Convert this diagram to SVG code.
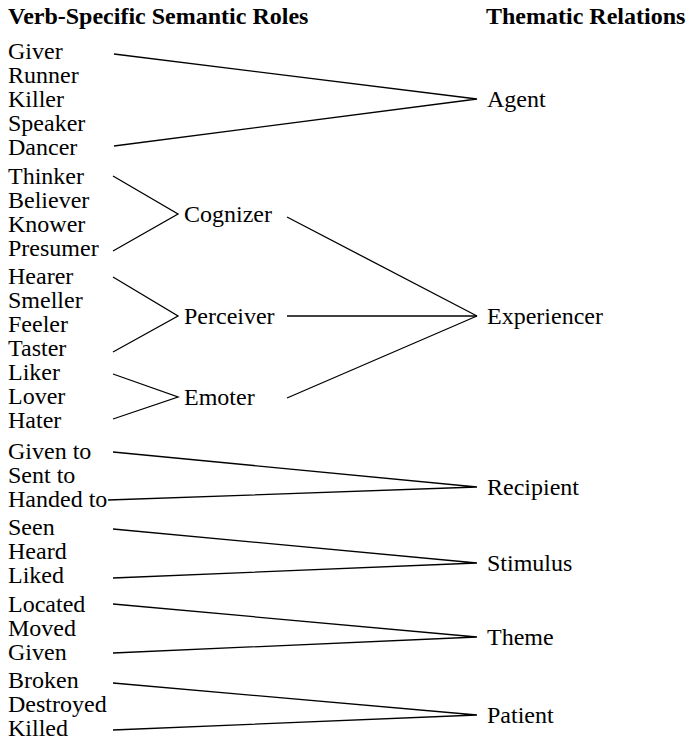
<svg xmlns="http://www.w3.org/2000/svg" width="689" height="740" viewBox="0 0 689 740">
  <style>
    text { fill: #000; }
    .head { font-weight: bold; }
    .link { stroke: #000; stroke-width: 1.3; fill: none; }
  </style>
  <rect width="689" height="740" fill="#fff"/>

  <g font-family="'Liberation Serif', 'Times New Roman', serif" font-size="24">
  <!-- column headings -->
  <g id="heading-roles"><text class="head" x="8" y="24">Verb-Specific Semantic Roles</text></g>
  <g id="heading-relations"><text class="head" x="486" y="24">Thematic Relations</text></g>

  <!-- verb-specific roles -->
  <g id="roles-agent">
    <text x="8" y="59">Giver</text>
    <text x="8" y="83">Runner</text>
    <text x="8" y="107">Killer</text>
    <text x="8" y="131">Speaker</text>
    <text x="8" y="155">Dancer</text>
  </g>
  <g id="roles-cognizer">
    <text x="8" y="184">Thinker</text>
    <text x="8" y="208">Believer</text>
    <text x="8" y="232">Knower</text>
    <text x="8" y="256">Presumer</text>
  </g>
  <g id="roles-perceiver">
    <text x="8" y="284">Hearer</text>
    <text x="8" y="308">Smeller</text>
    <text x="8" y="332">Feeler</text>
    <text x="8" y="356">Taster</text>
  </g>
  <g id="roles-emoter">
    <text x="8" y="380">Liker</text>
    <text x="8" y="404">Lover</text>
    <text x="8" y="428">Hater</text>
  </g>
  <g id="roles-recipient">
    <text x="8" y="459">Given to</text>
    <text x="8" y="483">Sent to</text>
    <text x="8" y="507">Handed to</text>
  </g>
  <g id="roles-stimulus">
    <text x="8" y="535">Seen</text>
    <text x="8" y="559">Heard</text>
    <text x="8" y="583">Liked</text>
  </g>
  <g id="roles-theme">
    <text x="8" y="612">Located</text>
    <text x="8" y="636">Moved</text>
    <text x="8" y="660">Given</text>
  </g>
  <g id="roles-patient">
    <text x="8" y="688">Broken</text>
    <text x="8" y="712">Destroyed</text>
    <text x="8" y="736">Killed</text>
  </g>

  <!-- intermediate roles -->
  <g id="cognizer"><text x="184" y="222">Cognizer</text></g>
  <g id="perceiver"><text x="184" y="324">Perceiver</text></g>
  <g id="emoter"><text x="184" y="405">Emoter</text></g>

  <!-- thematic relations -->
  <g id="agent"><text x="487" y="107">Agent</text></g>
  <g id="experiencer"><text x="487" y="324">Experiencer</text></g>
  <g id="recipient"><text x="487" y="495">Recipient</text></g>
  <g id="stimulus"><text x="487" y="571">Stimulus</text></g>
  <g id="theme"><text x="487" y="645">Theme</text></g>
  <g id="patient"><text x="487" y="723">Patient</text></g>
  </g>

  <!-- connectors -->
  <g id="connectors" class="link">
    <polyline points="114,54 477,99 114,146"/>
    <polyline points="113,176 178,214 113,251"/>
    <polyline points="113,277 178,316 113,352"/>
    <polyline points="113,374 178,397 113,419"/>
    <line x1="287" y1="217" x2="477" y2="316"/>
    <line x1="287" y1="316" x2="477" y2="316"/>
    <line x1="287" y1="398" x2="477" y2="316"/>
    <polyline points="113,452 477,487 108,500"/>
    <polyline points="113,529 477,563 113,578"/>
    <polyline points="113,604 477,637 113,653"/>
    <polyline points="113,683 477,715 113,730"/>
  </g>
</svg>
